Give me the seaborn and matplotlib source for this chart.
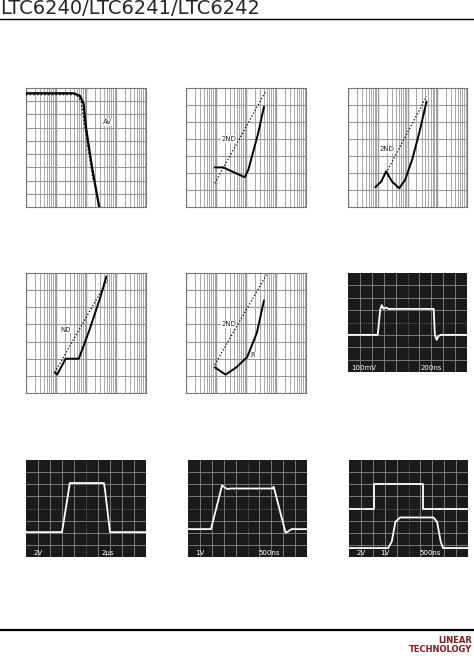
import numpy as np
import pandas as pd
import matplotlib.pyplot as plt
import seaborn as sns

sns.set_style('white')
plt.rcParams['font.family'] = ['DejaVu Sans']

# ---- log-frequency panels: x as fraction of 4 decades, y in grid units ----
gain_x = [0.0, 0.40, 0.45, 0.48, 0.50, 0.55, 0.61]
gain_y = [8.6, 8.6, 8.4, 7.8, 6.0, 3.0, 0.0]
gain_ref_x = [0.0, 0.42, 0.46, 0.50, 0.56]
gain_ref_y = [8.5, 8.5, 8.0, 5.5, 2.0]

h2a_x = [0.24, 0.31, 0.49, 0.52, 0.60, 0.65]
h2a_y = [2.33, 2.33, 1.75, 2.2, 4.3, 5.9]
h2a_ref_x = [0.24, 0.66]
h2a_ref_y = [1.4, 6.75]

h2b_x = [0.23, 0.28, 0.32, 0.37, 0.43, 0.48, 0.54, 0.60, 0.66]
h2b_y = [1.17, 1.5, 2.1, 1.5, 1.1, 1.6, 2.8, 4.4, 6.2]
h2b_ref_x = [0.32, 0.66]
h2b_ref_y = [2.0, 6.5]

h3a_x = [0.24, 0.26, 0.33, 0.44, 0.53, 0.62, 0.67]
h3a_y = [1.2, 1.07, 2.0, 2.0, 3.7, 5.6, 6.8]
h3a_ref_x = [0.24, 0.68]
h3a_ref_y = [1.2, 6.6]

h3b_x = [0.24, 0.33, 0.42, 0.51, 0.59, 0.65]
h3b_y = [1.5, 1.07, 1.5, 2.1, 3.5, 5.4]
h3b_ref_x = [0.24, 0.67]
h3b_ref_y = [1.65, 6.9]

# ---- scope panels: x in divisions (0-10), y in divisions (0-8) ----
sc6_x = [0, 2.5, 2.7, 2.83, 3.0, 3.2, 3.4, 7.2, 7.3, 7.45, 7.6, 7.8, 10]
sc6_y = [3.0, 3.0, 5.0, 5.4, 5.1, 5.2, 5.1, 5.1, 3.0, 2.6, 2.9, 3.0, 3.0]

sc7_x = [0, 3.0, 3.4, 3.65, 6.5, 6.6, 7.0, 10]
sc7_y = [2.05, 2.05, 4.5, 6.1, 6.1, 5.4, 2.05, 2.05]

sc8_x = [0, 1.93, 2.5, 2.86, 3.3, 3.6, 7.1, 7.2, 8.2, 8.4, 8.7, 10]
sc8_y = [2.3, 2.3, 4.5, 5.9, 5.6, 5.65, 5.65, 5.8, 2.0, 2.1, 2.3, 2.3]

sc9_in_x = [0, 2.1, 2.1, 6.2, 6.2, 10]
sc9_in_y = [4.0, 4.0, 6.0, 6.0, 4.0, 4.0]
sc9_out_x = [0, 3.3, 3.6, 3.9, 4.3, 7.1, 7.4, 7.7, 7.9, 10]
sc9_out_y = [0.74, 0.74, 1.3, 2.9, 3.26, 3.26, 2.9, 1.3, 0.74, 0.74]

W, H = 474, 656
fig = plt.figure(figsize=(W / 100, H / 100), dpi=100)


def px_axes(x0, y0, x1, y1):
    return fig.add_axes([x0 / W, 1 - y1 / H, (x1 - x0) / W, (y1 - y0) / H])


def log_panel(ax, nrows, curves, labels):
    ax.set_xlim(0, 1)
    ax.set_ylim(0, nrows)
    for d in range(4):
        for m in range(1, 10):
            xv = (d + np.log10(m)) / 4
            ax.axvline(xv, color='#999999', lw=1.0 if m == 1 else 0.6, zorder=0)
    for r in range(1, nrows):
        ax.axhline(r, color='#999999', lw=0.8, zorder=0)
    for (tx, ty, s) in labels:
        ax.text(tx, ty, s, fontsize=5, ha='center', va='center', zorder=1,
                bbox=dict(facecolor='white', edgecolor='none', pad=0.5))
    for (xs, ys, style, lw) in curves:
        sns.lineplot(x=xs, y=ys, ax=ax, sort=False, color='black', zorder=3,
                     linestyle=style, lw=lw, estimator=None)
    ax.set_xticks([])
    ax.set_yticks([])
    for sp in ax.spines.values():
        sp.set_color('#777777')
        sp.set_linewidth(0.8)


def scope_panel(ax, curves, labels):
    ax.set_facecolor('#1a1a1a')
    ax.set_xlim(0, 10)
    ax.set_ylim(0, 8)
    for v in range(1, 10):
        ax.axvline(v, color='#888888', lw=0.6, ls='-' if v != 5 else ':', zorder=0)
    for h in range(1, 8):
        ax.axhline(h, color='#888888', lw=0.6, ls='-' if h != 4 else ':', zorder=0)
    for (xs, ys) in curves:
        sns.lineplot(x=xs, y=ys, ax=ax, sort=False, color='white', lw=1.3,
                     estimator=None)
    for (tx, s) in labels:
        ax.text(tx, 0.35, s, color='white', fontsize=5, ha='center', va='center')
    ax.set_xticks([])
    ax.set_yticks([])
    for sp in ax.spines.values():
        sp.set_visible(False)


# row 1
ax = px_axes(26, 88, 146, 207)
log_panel(ax, 9, [(gain_x, gain_y, '-', 1.6), (gain_ref_x, gain_ref_y, ':', 1.0)],
          [(0.68, 6.4, 'AV')])
ax = px_axes(186, 88, 306, 207)
log_panel(ax, 7, [(h2a_x, h2a_y, '-', 1.4), (h2a_ref_x, h2a_ref_y, ':', 0.9)],
          [(0.36, 4.0, '2ND')])
ax = px_axes(348, 88, 467, 207)
log_panel(ax, 7, [(h2b_x, h2b_y, '-', 1.4), (h2b_ref_x, h2b_ref_y, ':', 0.9)],
          [(0.33, 3.4, '2ND')])

# row 2
ax = px_axes(26, 273, 146, 393)
log_panel(ax, 7, [(h3a_x, h3a_y, '-', 1.4), (h3a_ref_x, h3a_ref_y, ':', 0.9)],
          [(0.33, 3.7, 'ND')])
ax = px_axes(186, 273, 306, 393)
log_panel(ax, 7, [(h3b_x, h3b_y, '-', 1.4), (h3b_ref_x, h3b_ref_y, ':', 0.9)],
          [(0.36, 4.0, '2ND'), (0.56, 2.2, 'R')])
ax = px_axes(348, 273, 467, 372)
scope_panel(ax, [(sc6_x, sc6_y)], [(1.3, '100mV'), (7.0, '200ns')])

# row 3
ax = px_axes(26, 460, 146, 557)
scope_panel(ax, [(sc7_x, sc7_y)], [(1.0, '2V'), (6.8, '2µs')])
ax = px_axes(188, 460, 307, 557)
scope_panel(ax, [(sc8_x, sc8_y)], [(1.0, '1V'), (6.8, '500ns')])
ax = px_axes(349, 460, 468, 557)
scope_panel(ax, [(sc9_in_x, sc9_in_y), (sc9_out_x, sc9_out_y)],
            [(1.0, '2V'), (3.0, '1V'), (6.8, '500ns')])

# header / footer
fig.text(0.0, 1 - 8 / H, 'LTC6240/LTC6241/LTC6242', fontsize=14, va='center',
         ha='left', family=['Liberation Sans Narrow', 'DejaVu Sans'])
fig.add_artist(plt.Line2D([0, 1], [1 - 19 / H, 1 - 19 / H], color='black', lw=1.0))
fig.add_artist(plt.Line2D([0, 1], [1 - 630 / H, 1 - 630 / H], color='black', lw=1.6))
fig.text(0.995, 1 - 645 / H, 'LINEAR\nTECHNOLOGY', fontsize=6, color='#8b1a1a',
         ha='right', va='center', fontweight='bold', linespacing=0.9)

fig.savefig('out.png', dpi=100, facecolor='white')
